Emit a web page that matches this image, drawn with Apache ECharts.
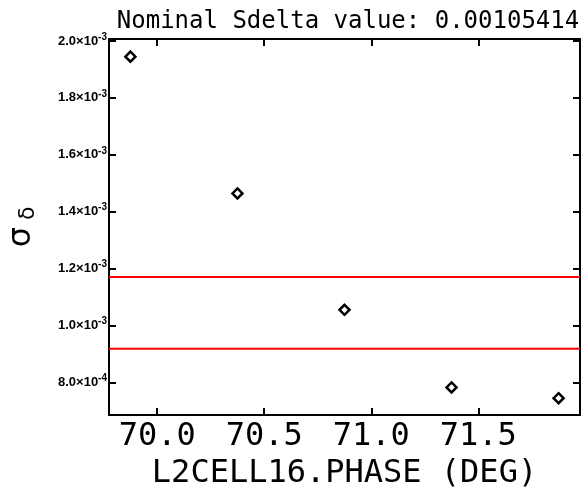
<!DOCTYPE html>
<html>
<head>
<meta charset="utf-8">
<script src="https://cdn.jsdelivr.net/npm/echarts@6/dist/echarts.min.js"></script>
<style>html,body{margin:0;padding:0;background:#fff}#c{width:584px;height:493px}</style>
</head>
<body>
<div id="c"></div>
<script>
var titleText = 'Nominal Sdelta value: 0.00105414';
var xName = 'L2CELL16.PHASE (DEG)';
var phase = [69.875, 70.375, 70.875, 71.375, 71.875];
var sigma = [0.001945, 0.001464, 0.001055, 0.000782, 0.000744];
var limits = [0.00117, 0.000918];
var xTicks = [70.0, 70.5, 71.0, 71.5];
var yTicks = [0.0008, 0.0010, 0.0012, 0.0014, 0.0016, 0.0018, 0.0020];
var xRange = [69.775, 71.975];
var yRange = [0.000685, 0.002007];

function yFmt(v) {
  var e = Math.floor(Math.log10(v) + 1e-9);
  var m = v / Math.pow(10, e);
  return '{b|' + m.toFixed(1) + '×10}{s|-' + (-e) + '}';
}

var chart = echarts.init(document.getElementById('c'));
var mono = 'DejaVu Sans Mono';
var tickStyle = {show: true, inside: true, length: 7, lineStyle: {color: '#000', width: 2}};
var limitSeries = limits.map(function (v) {
  return {
    type: 'line', xAxisIndex: 0, yAxisIndex: 0,
    data: [[xRange[0], v], [xRange[1], v]],
    symbol: 'none', silent: true,
    lineStyle: {color: '#ff0000', width: 2}, z: 3
  };
});
chart.setOption({
  animation: false,
  backgroundColor: '#fff',
  title: {
    text: titleText, left: 343, top: 5, textAlign: 'center',
    textStyle: {fontFamily: mono, fontSize: 24, fontWeight: 'normal', color: '#000'}
  },
  grid: {left: 109, right: 4, top: 39, bottom: 78, outerBoundsMode: 'none', containLabel: false},
  xAxis: [{
    type: 'value', min: xRange[0], max: xRange[1], position: 'bottom',
    name: xName, nameLocation: 'middle', nameGap: 41,
    nameTextStyle: {fontFamily: mono, fontSize: 32, color: '#000'},
    axisLine: {show: true, onZero: false, lineStyle: {color: '#000', width: 2}},
    axisTick: Object.assign({customValues: xTicks}, tickStyle),
    axisLabel: {customValues: xTicks, margin: 6, fontFamily: mono, fontSize: 32, color: '#000',
      formatter: function (v) { return v.toFixed(1); }},
    splitLine: {show: false}
  }, {
    type: 'value', min: xRange[0], max: xRange[1], position: 'top',
    axisLine: {show: true, onZero: false, lineStyle: {color: '#000', width: 2}},
    axisTick: Object.assign({customValues: xTicks}, tickStyle),
    axisLabel: {show: false},
    splitLine: {show: false}
  }],
  yAxis: [{
    type: 'value', min: yRange[0], max: yRange[1], position: 'left',
    name: '{s|σ}{d| δ}', nameLocation: 'middle', nameGap: 70, nameRotate: 90,
    nameTextStyle: {color: '#000', rich: {
      s: {fontFamily: 'DejaVu Sans', fontSize: 32, color: '#000'},
      d: {fontFamily: 'DejaVu Sans', fontSize: 22, color: '#000', padding: [12, 0, 0, 0]}
    }},
    axisLine: {show: true, onZero: false, lineStyle: {color: '#000', width: 2}},
    axisTick: Object.assign({customValues: yTicks}, tickStyle),
    axisLabel: {customValues: yTicks, margin: 2, formatter: yFmt, rich: {
      b: {fontFamily: 'Liberation Sans', fontSize: 13, fontWeight: 'bold', color: '#000'},
      s: {fontFamily: 'Liberation Sans', fontSize: 10, fontWeight: 'bold', color: '#000', padding: [0, 0, 8, 0]}
    }},
    splitLine: {show: false}
  }, {
    type: 'value', min: yRange[0], max: yRange[1], position: 'right',
    axisLine: {show: true, onZero: false, lineStyle: {color: '#000', width: 2}},
    axisTick: Object.assign({customValues: yTicks}, tickStyle),
    axisLabel: {show: false},
    splitLine: {show: false}
  }],
  series: limitSeries.concat([{
    type: 'scatter',
    data: phase.map(function (x, i) { return [x, sigma[i]]; }),
    symbol: 'diamond', symbolSize: 10,
    itemStyle: {color: '#fff', borderColor: '#000', borderWidth: 2.5, opacity: 1},
    z: 5
  }])
});
</script>
</body>
</html>
